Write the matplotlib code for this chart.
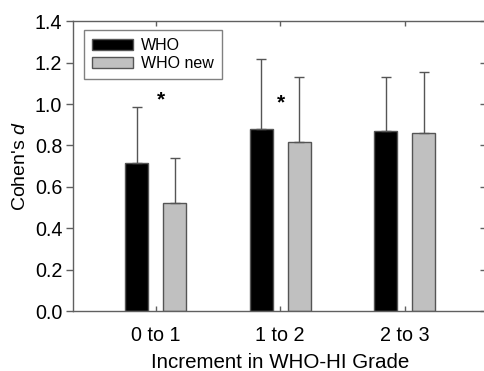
import matplotlib
matplotlib.use("Agg")
import matplotlib.pyplot as plt
import numpy as np

categories = ["0 to 1", "1 to 2", "2 to 3"]
who = [0.715, 0.880, 0.871]
who_err = [0.270, 0.340, 0.260]
who_new = [0.523, 0.815, 0.860]
who_new_err = [0.216, 0.315, 0.293]
star_x = [0.04, 1.005]
star_y = [1.02, 1.005]
yticks = [0.0, 0.2, 0.4, 0.6, 0.8, 1.0, 1.2, 1.4]

plt.rcParams['font.family'] = ['Liberation Sans', 'DejaVu Sans']
plt.rcParams['mathtext.fontset'] = 'custom'
plt.rcParams['mathtext.rm'] = 'Liberation Sans'
plt.rcParams['mathtext.it'] = 'Liberation Sans:italic'

fig = plt.figure(figsize=(4.85, 3.71), dpi=100)
ax = fig.add_axes([0.1515, 0.1617, 1.004 - 0.1515, 0.9426 - 0.1617])

x = np.arange(len(categories))
w = 0.185
off = 0.152
edge = '#555555'
ekw = dict(ecolor='#555555', elinewidth=1.0, capsize=3.3, capthick=1.0)
ax.bar(x - off, who, w, color='black', edgecolor=edge, linewidth=1.0,
       yerr=[np.zeros(3), who_err], error_kw=ekw, label='WHO', zorder=2)
ax.bar(x + off, who_new, w, color='#c0c0c0', edgecolor=edge, linewidth=1.0,
       yerr=[np.zeros(3), who_new_err], error_kw=ekw, label='WHO new', zorder=2)

for sx, sy in zip(star_x, star_y):
    ax.text(sx, sy, '*', ha='center', va='center', fontsize=15, fontweight='bold')

ax.set_xlim(-0.66, 2.66)
ax.set_ylim(0, 1.4)
ax.set_xticks(x)
ax.set_xticklabels(categories, fontsize=14.2)
ax.set_yticks(yticks)
ax.set_yticklabels([f"{v:.1f}" for v in yticks], fontsize=14.2)

for s in ax.spines.values():
    s.set_color('#606060')
    s.set_linewidth(1.0)

ax.tick_params(axis='y', which='both', direction='out', length=5, width=1,
               color='#606060', right=True, pad=3)
ax.tick_params(axis='x', direction='in', length=3.5, width=1, color='#606060',
               top=True, pad=11)
for t in ax.yaxis.get_major_ticks():
    t.tick2line.set_marker(matplotlib.lines.TICKLEFT)

ax.set_xlabel('Increment in WHO-HI Grade', fontsize=14.8, labelpad=5.5)
ax.set_ylabel("Cohen's $\\mathit{d}$", fontsize=14, labelpad=4)

leg = ax.legend(loc='upper left', bbox_to_anchor=(0.025, 0.97), fontsize=11.5,
                frameon=True, fancybox=False, edgecolor='#606060',
                handlelength=2.6, handleheight=0.7, handletextpad=0.5,
                borderpad=0.5, labelspacing=0.2, borderaxespad=0)
leg.get_frame().set_linewidth(1.0)

fig.savefig('out.png', dpi=100)
